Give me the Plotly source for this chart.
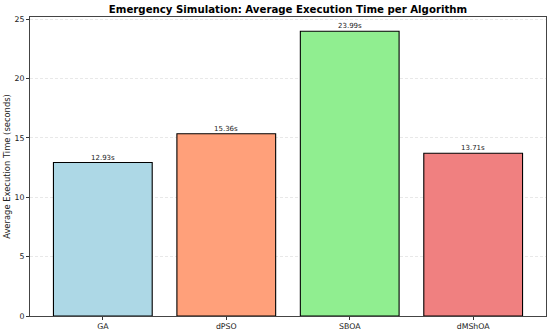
import plotly.graph_objects as go

algorithms = ["GA", "dPSO", "SBOA", "dMShOA"]
exec_times = [12.93, 15.36, 23.99, 13.71]
bar_colors = ["#ADD8E6", "#FFA07A", "#90EE90", "#F08080"]
labels = [f"{v:.2f}s" for v in exec_times]
y_ticks = [0, 5, 10, 15, 20, 25]

font = "DejaVu Sans"
fig = go.Figure()
fig.add_trace(go.Bar(
    x=list(range(len(algorithms))), y=exec_times, width=0.8,
    marker=dict(color=bar_colors, line=dict(color="black", width=1.1)),
    hoverinfo="skip",
))
for i, (v, t) in enumerate(zip(exec_times, labels)):
    fig.add_annotation(x=i, y=v, text=t, showarrow=False, yanchor="bottom", yshift=-1,
                       font=dict(family=font, size=7, color="#222"))
fig.update_layout(
    width=550, height=332,
    margin=dict(l=30, r=4, t=17, b=16, autoexpand=False),
    paper_bgcolor="white", plot_bgcolor="white",
    showlegend=False,
    title=dict(text="<b>Emergency Simulation: Average Execution Time per Algorithm</b>",
               x=0.5, xanchor="center", xref="paper", y=0.972, yref="container", yanchor="middle",
               automargin=False,
               font=dict(family=font, size=10.2, color="black")),
    font=dict(family=font, color="black"),
)
fig.update_xaxes(
    range=[-0.59, 3.59], tickmode="array", tickvals=list(range(len(algorithms))), ticktext=algorithms,
    ticks="outside", ticklen=3, tickcolor="#333", tickfont=dict(family=font, size=7.8, color="#222"),
    showline=True, linecolor="#444", linewidth=1, mirror=True, showgrid=False, zeroline=False,
    automargin=False,
)
fig.update_yaxes(
    range=[0, 25.19], tickmode="array", tickvals=y_ticks,
    ticks="outside", ticklen=3, tickcolor="#333", tickfont=dict(family=font, size=7.8, color="#222"),
    showline=True, linecolor="#444", linewidth=1, mirror=True,
    showgrid=True, gridcolor="rgba(0,0,0,0.09)", griddash="3px,2px", gridwidth=0.6, zeroline=False,
    automargin=False,
    title=dict(text="Average Execution Time (seconds)", font=dict(family=font, size=8.4, color="#222"), standoff=2),
)
fig.write_html("out.html", config={"displayModeBar": False},
               post_script="document.body.style.margin='0';document.body.style.overflow='hidden';")
